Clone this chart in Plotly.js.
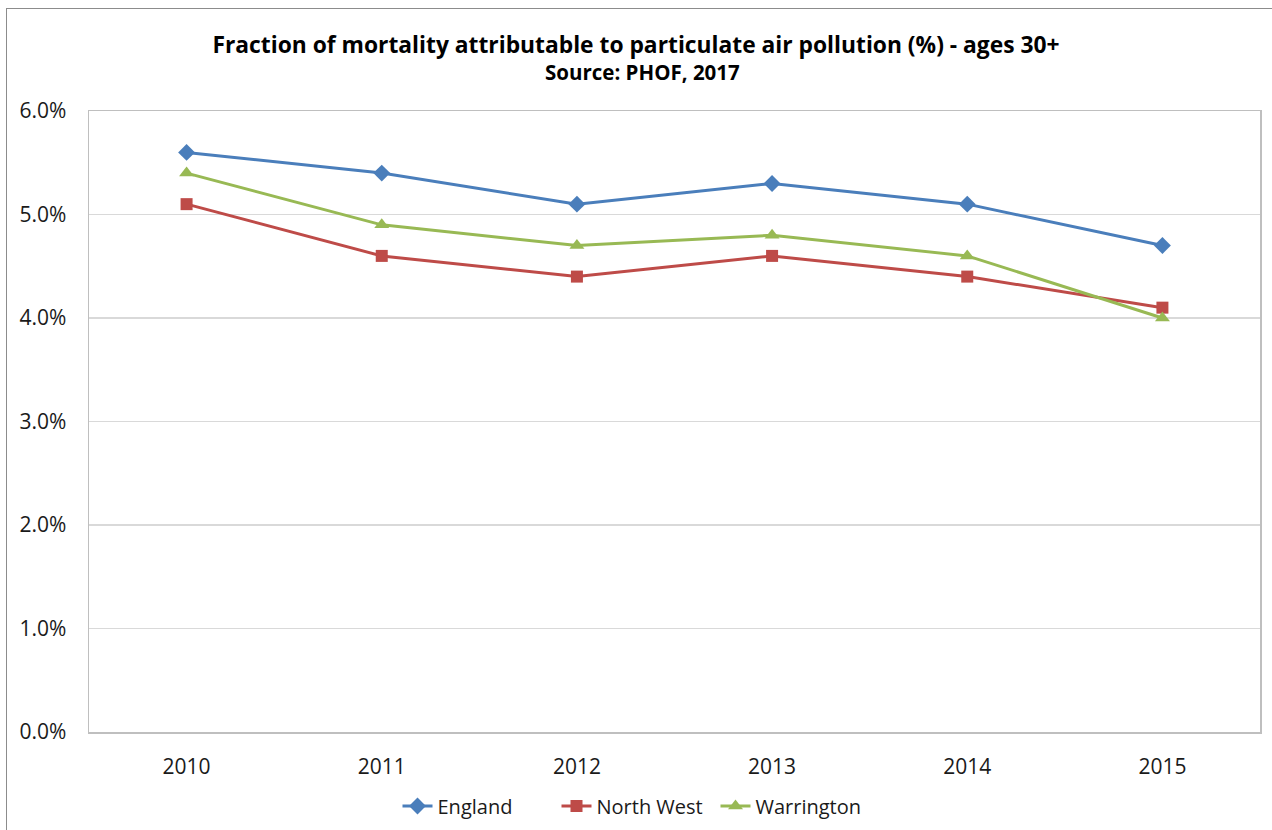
<!DOCTYPE html>
<html>
<head>
<meta charset="utf-8">
<script src="https://cdn.plot.ly/plotly-3.0.1.min.js"></script>
<style>
html,body{margin:0;padding:0;background:#fff;}
#wrap{position:relative;width:1272px;height:830px;}
#chart{width:1272px;height:830px;}
#frame{position:absolute;left:6px;top:8px;width:1280px;height:840px;border:1.5px solid #8c8c8c;pointer-events:none;}
</style>
</head>
<body>
<div id="wrap"><div id="chart"></div><div id="frame"></div></div>
<script>
const years = ['2010','2011','2012','2013','2014','2015'];
const england = [5.6, 5.4, 5.1, 5.3, 5.1, 4.7];
const northWest = [5.1, 4.6, 4.4, 4.6, 4.4, 4.1];
const warrington = [5.4, 4.9, 4.7, 4.8, 4.6, 4.0];
const yTicks = [0, 1, 2, 3, 4, 5, 6];
const yTickText = yTicks.map(v => v.toFixed(1) + '%');

const font = "Open Sans, Noto Sans, Liberation Sans, sans-serif";

const traces = [
  {x: years, y: england, name: 'England', type: 'scatter', mode: 'lines+markers',
   line: {color: '#4a7ebb', width: 3}, marker: {symbol: 'diamond', size: 13, color: '#4a7ebb'}},
  {x: years, y: northWest, name: 'North West', type: 'scatter', mode: 'lines+markers',
   line: {color: '#be4b48', width: 3}, marker: {symbol: 'square', size: 12, color: '#be4b48'}},
  {x: years, y: warrington, name: 'Warrington', type: 'scatter', mode: 'lines+markers',
   line: {color: '#98b954', width: 3}, marker: {symbol: 'triangle-up', size: 13, color: '#98b954'}}
];

const layout = {
  width: 1272, height: 830,
  margin: {l: 89, r: 12, t: 111, b: 98, autoexpand: false},
  paper_bgcolor: '#fff', plot_bgcolor: '#fff',
  font: {family: font, color: '#1a1a1a', size: 20},
  title: {
    text: '<b>Fraction of mortality attributable to particulate air pollution (%) - ages 30+</b>',
    x: 636 / 1272, xref: 'container', xanchor: 'center', yref: 'container', y: 1 - 45/830, yanchor: 'middle',
    font: {family: font, size: 22.8, color: '#000'}
  },
  annotations: [{
    text: '<b>Source: PHOF, 2017</b>', showarrow: false,
    xref: 'paper', x: (642 - 89) / 1171, xanchor: 'center', yref: 'paper', y: 1 + (111 - 72) / 621, yanchor: 'middle',
    font: {family: font, size: 20.5, color: '#000'}
  }],
  xaxis: {
    type: 'category', range: [-0.5, 5.5],
    showgrid: false, zeroline: false,
    showline: true, mirror: true, linecolor: '#bfbfbf', linewidth: 1.5,
    ticks: '', ticklabelstandoff: 15,
    tickfont: {family: font, size: 21, color: '#1a1a1a'}
  },
  yaxis: {
    range: [0, 6], tickmode: 'array', tickvals: yTicks, ticktext: yTickText,
    showgrid: true, gridcolor: '#d9d9d9', gridwidth: 1.5,
    zeroline: false, showline: true, mirror: true, linecolor: '#bfbfbf', linewidth: 1.5,
    ticks: '', ticklabelstandoff: 17,
    tickfont: {family: font, size: 21, color: '#1a1a1a'}
  },
  showlegend: true,
  legend: {
    orientation: 'h', x: 0.5, xref: 'container', xanchor: 'center', yref: 'container', y: 1 - 806/830, yanchor: 'middle',
    font: {family: font, size: 20, color: '#1a1a1a'},
    itemwidth: 30, tracegroupgap: 0, entrywidth: 114, entrywidthmode: 'pixels'
  }
};

Plotly.newPlot('chart', traces, layout, {displayModeBar: false, staticPlot: true});
</script>
</body>
</html>
